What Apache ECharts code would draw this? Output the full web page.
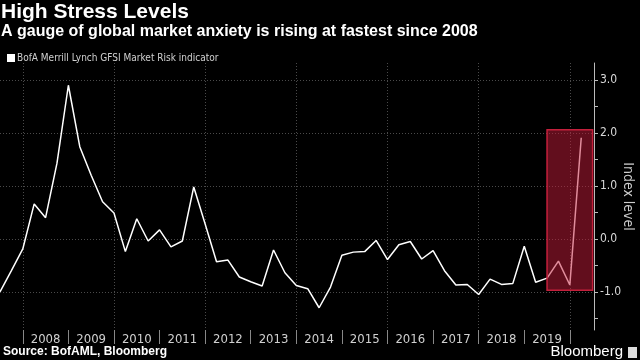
<!DOCTYPE html>
<html><head><meta charset="utf-8">
<script src="https://cdn.jsdelivr.net/npm/echarts@6/dist/echarts.min.js"></script>
<style>html,body{margin:0;padding:0;background:#000}#c{width:640px;height:360px}</style>
</head><body><div id="c"></div>
<script>
// Quarterly observations of the BofA Merrill Lynch GFSI Market Risk indicator
const quarters = [
  '2007Q3','2007Q4',
  '2008Q1','2008Q2','2008Q3','2008Q4',
  '2009Q1','2009Q2','2009Q3','2009Q4',
  '2010Q1','2010Q2','2010Q3','2010Q4',
  '2011Q1','2011Q2','2011Q3','2011Q4',
  '2012Q1','2012Q2','2012Q3','2012Q4',
  '2013Q1','2013Q2','2013Q3','2013Q4',
  '2014Q1','2014Q2','2014Q3','2014Q4',
  '2015Q1','2015Q2','2015Q3','2015Q4',
  '2016Q1','2016Q2','2016Q3','2016Q4',
  '2017Q1','2017Q2','2017Q3','2017Q4',
  '2018Q1','2018Q2','2018Q3','2018Q4',
  '2019Q1','2019Q2','2019Q3','2019Q4',
  '2020Q1','2020Q2'
];
const riskValues = [
  -1.00, -0.60,
  -0.19, 0.66, 0.40, 1.43,
  2.90, 1.74, 1.20, 0.70,
  0.49, -0.24, 0.38, -0.04,
  0.17, -0.15, -0.04, 0.98,
  0.28, -0.43, -0.40, -0.72,
  -0.81, -0.89, -0.21, -0.64,
  -0.88, -0.94, -1.30, -0.91,
  -0.31, -0.25, -0.24, -0.03,
  -0.39, -0.11, -0.05, -0.38,
  -0.22, -0.60, -0.87, -0.86,
  -1.05, -0.76, -0.86, -0.84,
  -0.14, -0.82, -0.74, -0.42,
  -0.87, 1.91
];
const yearLabels = ['2008','2009','2010','2011','2012','2013','2014','2015','2016','2017','2018','2019'];
const yearTicks = [2008,2009,2010,2011,2012,2013,2014,2015,2016,2017,2018,2019,2020];
const yearGridLines = [2008,2010,2012,2014,2016,2018,2020];
const yLabelValues = [-1, 0, 1, 2, 3];
const yTickValues = [-1.5, -1, -0.5, 0, 0.5, 1, 1.5, 2, 2.5, 3];
const highlightFrom = '2019Q3', highlightTo = '2020Q3';
const highlightLow = -0.97, highlightHigh = 2.06;

const seriesName = 'BofA Merrill Lynch GFSI Market Risk indicator';
function qToYear(q) { return +q.slice(0, 4) + (+q.slice(5) - 1) / 4; }
const lineData = quarters.map((q, i) => [qToYear(q), riskValues[i]]);

const X_MIN = 2007.5, X_MAX = 2020.53, Y_MIN = -1.72, Y_MAX = 3.32;
const narrow = "'Liberation Sans Narrow', 'DejaVu Sans Condensed', 'Roboto Condensed', sans-serif";
const grid = { left: 0, right: 46, top: 63, bottom: 30, containLabel: false, outerBoundsMode: 'none' };
const dotted = { show: true, lineStyle: { color: '#4a4a4a', type: [1, 2], width: 1 } };

const chart = echarts.init(document.getElementById('c'), null, { renderer: 'canvas' });
chart.setOption({
  backgroundColor: '#000',
  animation: false,
  grid: grid,
  legend: {
    data: [seriesName], left: 2, top: 48, icon: 'rect', itemWidth: 8, itemHeight: 8, itemGap: 4,
    textStyle: { color: '#d0d0d0', fontSize: 10, fontFamily: narrow, padding: [0, 0, 0, -3] },
    selectedMode: false
  },
  graphic: [
    { type: 'text', left: 1, top: 2, style: { text: 'High Stress Levels', fill: '#fff', font: 'bold 21px "Liberation Sans", Arial, sans-serif' } },
    { type: 'text', left: 1, top: 24, style: { text: 'A gauge of global market anxiety is rising at fastest since 2008', fill: '#fff', font: 'bold 16px "Liberation Sans", Arial, sans-serif' } },
    { type: 'text', left: 3, top: 346, style: { text: 'Source: BofAML, Bloomberg', fill: '#fff', font: 'bold 12px "Liberation Sans", Arial, sans-serif' } },
    { type: 'text', right: 17, top: 344, style: { text: 'Bloomberg', fill: '#fff', font: '15px "Liberation Sans", Arial, sans-serif' } },
    { type: 'rect', right: 3, top: 347, shape: { width: 9, height: 11 }, style: { fill: '#ddd' } }
  ],
  xAxis: [
    {
      type: 'value', min: X_MIN, max: X_MAX, position: 'bottom',
      axisLine: { show: false, onZero: false },
      axisTick: { show: true, customValues: yearTicks, length: 14, lineStyle: { color: '#888' } },
      axisLabel: {
        show: true, customValues: yearLabels.map(y => +y + 0.5), margin: 3,
        formatter: v => String(Math.floor(v)), color: '#d0d0d0', fontSize: 13, fontFamily: narrow
      },
      splitLine: { show: false }
    },
    {
      type: 'value', min: X_MIN, max: X_MAX, position: 'bottom',
      axisLine: { show: false, onZero: false },
      axisTick: { show: false, customValues: yearGridLines },
      axisLabel: { show: false },
      splitLine: dotted
    }
  ],
  yAxis: [
    {
      type: 'value', min: Y_MIN, max: Y_MAX, position: 'right',
      axisLine: { show: true, onZero: false, lineStyle: { color: '#bbb', width: 1 } },
      axisTick: { show: true, customValues: yTickValues, length: 4, lineStyle: { color: '#bbb' } },
      axisLabel: {
        show: true, customValues: yLabelValues, margin: 6,
        formatter: v => v.toFixed(1), color: '#d8d8d8', fontSize: 12, fontFamily: narrow
      },
      splitLine: { show: false },
      name: 'Index level', nameLocation: 'middle', nameRotate: -90, nameGap: 34, nameMoveOverlap: false,
      nameTextStyle: { color: '#ccc', fontSize: 14, fontFamily: narrow, verticalAlign: 'middle', align: 'center' }
    },
    {
      type: 'value', min: Y_MIN, max: Y_MAX, position: 'right',
      axisLine: { show: false, onZero: false },
      axisTick: { show: false, customValues: yLabelValues },
      axisLabel: { show: false },
      splitLine: dotted
    }
  ],
  series: [
    {
      name: seriesName, type: 'line', data: lineData, xAxisIndex: 0, yAxisIndex: 0,
      showSymbol: false, symbol: 'none', color: '#fff',
      lineStyle: { color: '#fff', width: 1.5 }, z: 3
    },
    {
      name: 'highlight', type: 'line', data: [], xAxisIndex: 0, yAxisIndex: 0, z: 10,
      markArea: {
        silent: true, z: 10,
        itemStyle: { color: 'rgba(196,28,58,0.5)', borderColor: '#c4203c', borderWidth: 1.5 },
        data: [[
          { xAxis: qToYear(highlightFrom), yAxis: highlightHigh },
          { xAxis: qToYear(highlightTo), yAxis: highlightLow }
        ]]
      }
    }
  ]
});
</script></body></html>
